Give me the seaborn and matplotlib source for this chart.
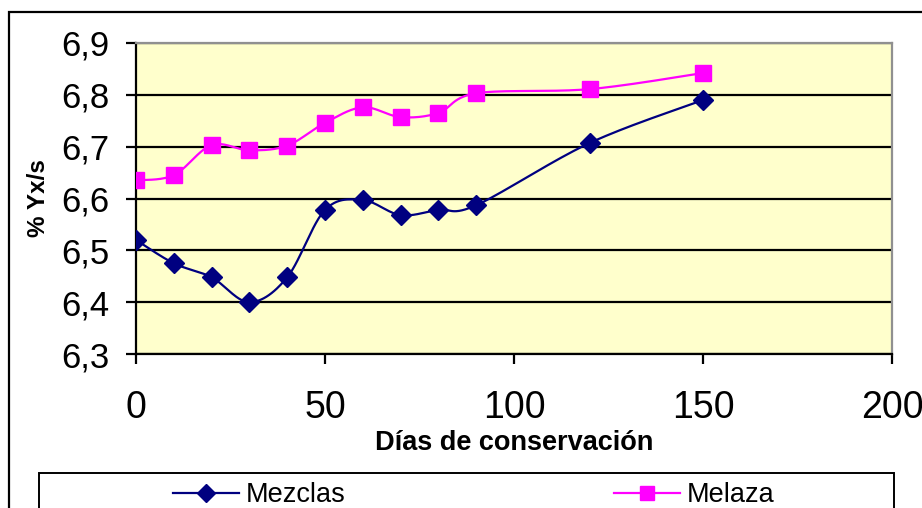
import numpy as np
import pandas as pd
import matplotlib
matplotlib.use("Agg")
import matplotlib.pyplot as plt
import seaborn as sns
from matplotlib.lines import Line2D
from matplotlib.patches import Rectangle
from matplotlib.ticker import FuncFormatter

dias = [0, 10, 20, 30, 40, 50, 60, 70, 80, 90, 120, 150]
mezclas = [6.520, 6.475, 6.448, 6.400, 6.448, 6.578, 6.597, 6.568, 6.578, 6.587, 6.707, 6.790]
melaza = [6.635, 6.645, 6.703, 6.693, 6.702, 6.746, 6.776, 6.757, 6.765, 6.803, 6.811, 6.842]
series_names = ["Mezclas", "Melaza"]
x_ticks = [0, 50, 100, 150, 200]
y_ticks = [6.3, 6.4, 6.5, 6.6, 6.7, 6.8, 6.9]


def smooth(x, y, n=30):
    """Excel-like smoothed line (Catmull-Rom Bezier through the points)."""
    p = np.column_stack([x, y]).astype(float)
    ext = np.vstack([p[0], p, p[-1]])
    out = []
    t = np.linspace(0, 1, n)[:, None]
    for i in range(1, len(ext) - 2):
        p0, p1, p2, p3 = ext[i - 1], ext[i], ext[i + 1], ext[i + 2]
        c1 = p1 + (p2 - p0) / 6.0
        c2 = p2 - (p3 - p1) / 6.0
        seg = ((1 - t) ** 3) * p1 + 3 * ((1 - t) ** 2) * t * c1 + 3 * (1 - t) * t ** 2 * c2 + t ** 3 * p2
        out.append(seg if i == 1 else seg[1:])
    s = np.vstack(out)
    return s[:, 0], s[:, 1]


plt.rcParams['font.family'] = ['Liberation Sans', 'DejaVu Sans']

W, H = 922, 508
fig = plt.figure(figsize=(W / 100, H / 100), dpi=100)
fig.patch.set_facecolor("white")

# outer chart frame
fig.patches.append(Rectangle((9 / W, -0.1), 1.2, 1 - 12 / H + 0.1, transform=fig.transFigure,
                             fill=False, edgecolor="black", linewidth=1.6, zorder=0))
# legend frame
fig.patches.append(Rectangle((39 / W, -0.1), (894 - 39) / W, 1 - 473 / H + 0.1, transform=fig.transFigure,
                             fill=False, edgecolor="black", linewidth=1.4, zorder=0))

ax = fig.add_axes([136 / W, 1 - 354 / H, (892 - 136) / W, (354 - 43) / H])
ax.set_facecolor("#FFFFCC")

colors = {"Mezclas": "#000080", "Melaza": "#FF00FF"}
markers = {"Mezclas": "D", "Melaza": "s"}
msize = {"Mezclas": 9.8, "Melaza": 11.2}

rows = []
for name, vals in zip(series_names, [mezclas, melaza]):
    sx, sy = smooth(dias, vals)
    rows.append(pd.DataFrame({"x": sx, "y": sy, "serie": name, "order": np.arange(len(sx))}))
curve = pd.concat(rows, ignore_index=True)
pts = pd.DataFrame({"x": dias * 2, "y": mezclas + melaza,
                    "serie": ["Mezclas"] * len(dias) + ["Melaza"] * len(dias)})

for name in series_names:
    sns.lineplot(data=curve[curve.serie == name], x="x", y="y", sort=False, estimator=None,
                 color=colors[name], linewidth=1.6, ax=ax, legend=False, zorder=3)
    ax.plot(pts[pts.serie == name].x, pts[pts.serie == name].y, linestyle="none",
            marker=markers[name], markersize=msize[name], color=colors[name],
            markeredgecolor=colors[name], zorder=4)

ax.set_xlim(0, 200)
ax.set_ylim(6.3, 6.9)
ax.set_xticks(x_ticks)
ax.set_yticks(y_ticks)
ax.yaxis.set_major_formatter(FuncFormatter(lambda v, p: f"{v:.1f}".replace(".", ",")))
ax.xaxis.set_major_formatter(FuncFormatter(lambda v, p: f"{v:.0f}"))
ax.grid(axis="y", color="black", linewidth=1.6)
ax.grid(axis="x", visible=False)
ax.set_axisbelow(True)

for s in ["top", "right"]:
    ax.spines[s].set_color("#909090")
    ax.spines[s].set_linewidth(1.6)
for s in ["left", "bottom"]:
    ax.spines[s].set_color("black")
    ax.spines[s].set_linewidth(1.6)

ax.tick_params(axis="y", direction="out", length=7, width=1.6, pad=12, labelsize=25)
ax.tick_params(axis="x", direction="out", length=7, width=1.6, pad=19, labelsize=27)

ax.set_xlabel("Días de conservación", fontsize=19.5, fontweight="bold", labelpad=3)
ax.set_ylabel("% Yx/s", fontsize=17.5, fontweight="bold", labelpad=8)

handles = [Line2D([0], [0], color=colors[n], marker=markers[n], markersize=msize[n] * 0.95,
                  linewidth=1.6) for n in series_names]
fig.legend(handles, series_names, loc="upper left", bbox_to_anchor=(173 / W, 1 - 482 / H),
           ncol=2, frameon=False, fontsize=19.5, handlelength=2.45, handletextpad=0.25,
           columnspacing=9.9, borderpad=0, borderaxespad=0)

fig.savefig("out.png", dpi=100)
